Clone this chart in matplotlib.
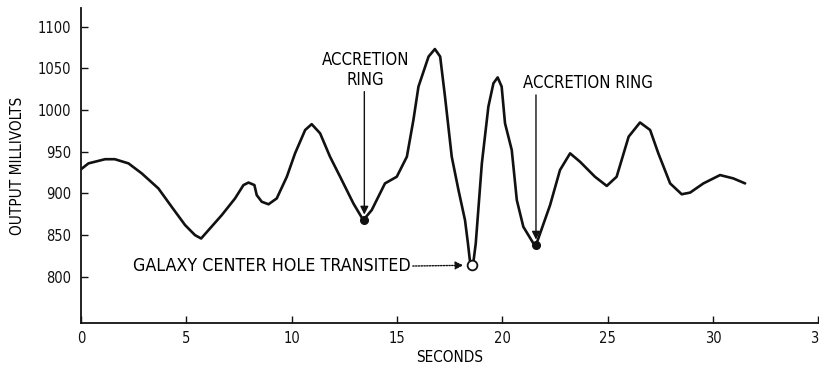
import matplotlib
matplotlib.use("Agg")
import matplotlib.pyplot as plt

plt.rcParams['font.family'] = ['DejaVu Sans']
plt.rcParams['font.stretch'] = 'condensed'

# signal trace (seconds, millivolts)
seconds = [0.0, 0.35, 1.14, 1.6, 2.25, 2.88, 3.67, 4.3, 4.94, 5.41, 5.7, 6.05,
           6.68, 7.31, 7.71, 7.95, 8.23, 8.34, 8.58, 8.9, 9.29, 9.77, 10.16,
           10.64, 10.95, 11.35, 11.82, 12.3, 12.93, 13.4, 13.8, 14.43, 14.99,
           15.47, 15.78, 16.02, 16.5, 16.8, 17.05, 17.28, 17.6, 17.92, 18.23,
           18.37, 18.46, 18.55, 18.64, 18.74, 19.03, 19.34, 19.58, 19.78,
           19.97, 20.13, 20.45, 20.69, 21.0, 21.48, 21.6, 22.27, 22.74, 23.22,
           23.69, 24.4, 24.96, 25.43, 26.0, 26.54, 27.02, 27.41, 27.97, 28.52,
           28.92, 29.55, 30.34, 30.97, 31.53]
millivolts = [929, 936, 941, 941, 936, 924, 906, 884, 862, 850, 846, 856,
              874, 894, 910, 913, 910, 898, 890, 887, 894, 920, 948,
              976, 983, 972, 944, 920, 888, 868, 880, 912, 920,
              944, 988, 1028, 1064, 1073, 1064, 1016, 944, 904, 868,
              840, 820, 814, 820, 840, 936, 1004, 1032, 1039,
              1028, 984, 952, 892, 860, 840, 838, 886, 928, 948,
              938, 920, 909, 920, 968, 985, 976, 948, 912, 899,
              901, 912, 922, 918, 912]

x_ticks = [0, 5, 10, 15, 20, 25, 30, 35]
y_ticks = [800, 850, 900, 950, 1000, 1050, 1100]

ring1 = (13.45, 868)
ring2 = (21.6, 838)
hole = (18.55, 814)

ink = '#111111'

fig = plt.figure(figsize=(8.19, 3.71), dpi=100)
ax = fig.add_axes([0.099, 0.130, 0.9, 0.848])

ax.plot(seconds, millivolts, color=ink, lw=1.9, solid_joinstyle='round',
        solid_capstyle='round', zorder=3)
ax.plot(*ring1, 'o', color=ink, ms=5.5, zorder=4)
ax.plot(*ring2, 'o', color=ink, ms=5.5, zorder=4)
ax.plot(*hole, 'o', mfc='white', mec=ink, mew=1.3, ms=7, zorder=5)

arrow = dict(arrowstyle='-|>', color=ink, lw=1.0, mutation_scale=12,
             shrinkA=0, shrinkB=4)
ax.text(13.5, 1060, 'ACCRETION', ha='center', va='center', fontsize=12)
ax.text(13.5, 1036, 'RING', ha='center', va='center', fontsize=12)
ax.annotate('', xy=ring1, xytext=(13.45, 1022), arrowprops=arrow)

ax.text(21.0, 1032, 'ACCRETION RING', ha='left', va='center', fontsize=12)
ax.annotate('', xy=ring2, xytext=(21.6, 1018), arrowprops=arrow)

dotted = dict(arrowstyle='-|>', color=ink, lw=1.0, ls=(0, (1, 1)),
              mutation_scale=12, shrinkA=0, shrinkB=6)
ax.text(2.47, 813, 'GALAXY CENTER HOLE TRANSITED', ha='left', va='center',
        fontsize=12.8)
ax.annotate('', xy=hole, xytext=(15.75, 813), arrowprops=dotted)

ax.set_xlim(0, 35)
ax.set_ylim(745, 1122)
ax.set_xticks(x_ticks)
ax.set_yticks(y_ticks)
ax.tick_params(direction='in', length=5, width=1, labelsize=10.5, colors=ink)
ax.tick_params(axis='x', pad=6)
ax.tick_params(axis='y', pad=7)
ax.spines['top'].set_visible(False)
ax.spines['right'].set_visible(False)
ax.spines['left'].set_linewidth(1.3)
ax.spines['bottom'].set_linewidth(1.3)
ax.spines['left'].set_color(ink)
ax.spines['bottom'].set_color(ink)
ax.set_xlabel('SECONDS', fontsize=11, labelpad=3)
ax.set_ylabel('OUTPUT MILLIVOLTS', fontsize=11, labelpad=9)

fig.savefig('out.png', dpi=100)
